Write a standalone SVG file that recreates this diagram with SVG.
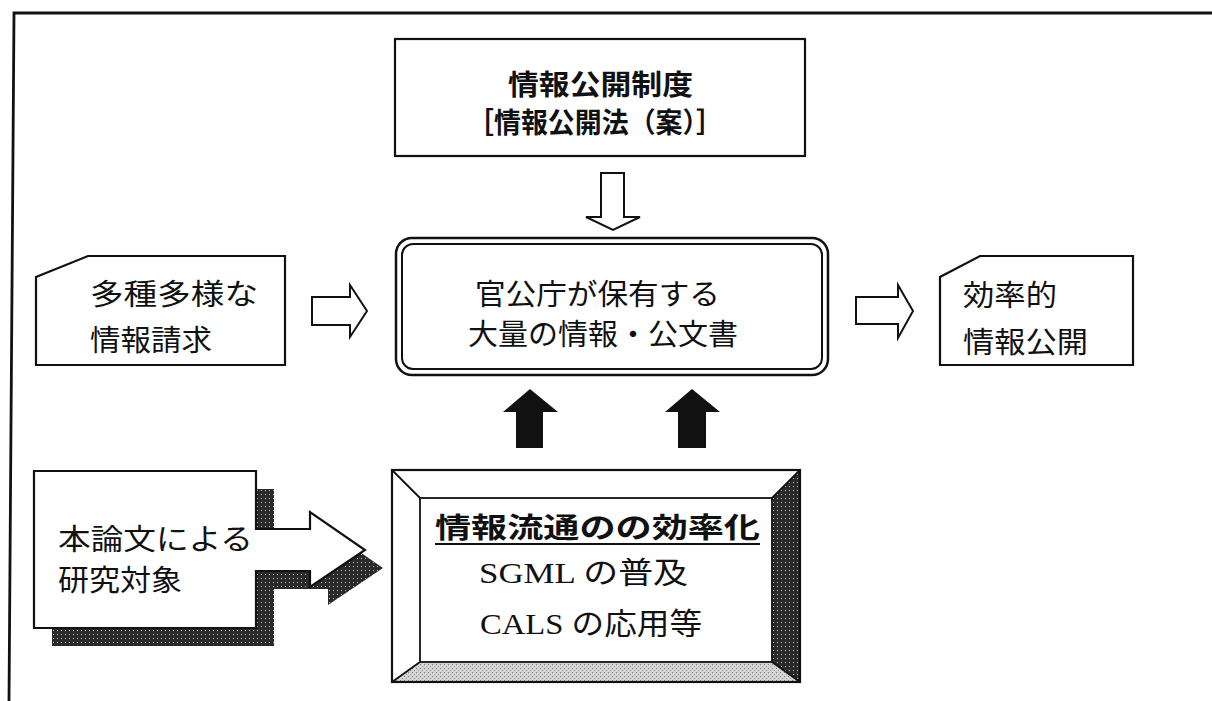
<svg xmlns="http://www.w3.org/2000/svg" width="1212" height="701" viewBox="0 0 1212 701">
<style>
.jp{font-family:"Noto Sans CJK JP","Noto Sans CJK SC",sans-serif;font-size:29px;fill:#111}
.jpb{font-family:"Noto Sans CJK JP","Noto Sans CJK SC",sans-serif;font-size:28px;font-weight:bold;fill:#111}
.ser{font-family:"Liberation Serif","Noto Sans CJK JP",serif;font-size:30px;fill:#111}
.box{fill:#fff;stroke:#111;stroke-width:2.2}
.hollow{fill:#fff;stroke:#111;stroke-width:2;stroke-linejoin:miter}
.solid{fill:#111;stroke:none}
</style>
<defs>
<pattern id="dark" width="4" height="4" patternUnits="userSpaceOnUse">
<rect width="4" height="4" fill="#2a2a2a"/>
<rect x="1" y="2" width="1" height="1" fill="#bbb"/>
</pattern>
<pattern id="light" width="4" height="4" patternUnits="userSpaceOnUse">
<rect width="4" height="4" fill="#d4d4d4"/>
<rect x="0" y="0" width="1" height="1" fill="#777"/>
<rect x="2" y="2" width="1" height="1" fill="#999"/>
</pattern>
</defs>
<rect width="1212" height="701" fill="#fff"/>

<g id="frame">
<path d="M9,701 L14,13 L1212,13" fill="none" stroke="#111" stroke-width="2.8"/>
</g>

<g id="node-law">
<rect class="box" x="395" y="39" width="410" height="117"/>
<text class="jpb" x="508" y="95" textLength="185" lengthAdjust="spacingAndGlyphs">情報公開制度</text>
<text class="jpb" x="467" y="133" textLength="256" lengthAdjust="spacingAndGlyphs">［情報公開法（案）］</text>
</g>

<g id="node-info">
<rect x="396" y="238" width="432" height="137" rx="16" fill="#fff" stroke="#111" stroke-width="2.5"/>
<rect x="402" y="244" width="420" height="125" rx="11" fill="none" stroke="#111" stroke-width="2"/>
<text class="jp" x="475" y="305" textLength="245" lengthAdjust="spacingAndGlyphs">官公庁が保有する</text>
<text class="jp" x="468" y="345" textLength="270" lengthAdjust="spacingAndGlyphs">大量の情報・公文書</text>
</g>

<g id="node-request">
<path class="box" d="M88,256 L285,256 L285,365 L36,365 L36,277 Z"/>
<text class="jp" x="90" y="305" textLength="168" lengthAdjust="spacingAndGlyphs">多種多様な</text>
<text class="jp" x="90" y="351" textLength="122" lengthAdjust="spacingAndGlyphs">情報請求</text>
</g>

<g id="node-disclosure">
<path class="box" d="M980,256 L1133,256 L1133,365 L940,365 L940,277 Z"/>
<text class="jp" x="963" y="306" textLength="94" lengthAdjust="spacingAndGlyphs">効率的</text>
<text class="jp" x="963" y="353" textLength="125" lengthAdjust="spacingAndGlyphs">情報公開</text>
</g>

<g id="node-research">
<path d="M52,489 L274,489 L274,547 L328,547 L328,530 L383,568 L328,605 L328,589 L274,589 L274,646 L52,646 Z" fill="url(#dark)"/>
<path class="box" d="M34,471 L256,471 L256,529 L310,529 L310,512 L365,550 L310,587 L310,571 L256,571 L256,628 L34,628 Z"/>
<text class="jp" x="58" y="550" textLength="195" lengthAdjust="spacingAndGlyphs">本論文による</text>
<text class="jp" x="58" y="591" textLength="124" lengthAdjust="spacingAndGlyphs">研究対象</text>
</g>

<g id="node-efficiency">
<rect x="392" y="470" width="408" height="212" fill="#fff"/>
<polygon points="800,470 800,682 772,662 772,498" fill="url(#dark)"/>
<polygon points="392,682 800,682 772,662 420,662" fill="url(#light)"/>
<rect x="392" y="470" width="408" height="212" fill="none" stroke="#111" stroke-width="2.2"/>
<rect x="420" y="498" width="352" height="164" fill="none" stroke="#111" stroke-width="1.8"/>
<path d="M392,470 L420,498 M800,470 L772,498 M392,682 L420,662 M800,682 L772,662" stroke="#111" stroke-width="1.8"/>
<text class="jpb" x="435" y="538" textLength="325" lengthAdjust="spacingAndGlyphs">情報流通のの効率化</text>
<line x1="435" y1="544" x2="760" y2="544" stroke="#111" stroke-width="2"/>
<text class="ser" x="479" y="583" textLength="209" lengthAdjust="spacingAndGlyphs">SGML の普及</text>
<text class="ser" x="480" y="634" textLength="222" lengthAdjust="spacingAndGlyphs">CALS の応用等</text>
</g>

<g id="connectors">
<polygon class="hollow" points="601,173 624,173 624,217 640,217 613,230 586,217 601,217"/>
<polygon class="hollow" points="312,297 350,297 350,285 367,311 350,337 350,325 312,325"/>
<polygon class="hollow" points="856,297 898,297 898,285 913,311 898,338 898,324 856,324"/>
<polygon class="solid" points="516,448 516,412 503,412 530,389 558,412 543,412 543,448"/>
<polygon class="solid" points="678,448 678,412 665,412 692,389 720,412 706,412 706,448"/>
</g>
</svg>
